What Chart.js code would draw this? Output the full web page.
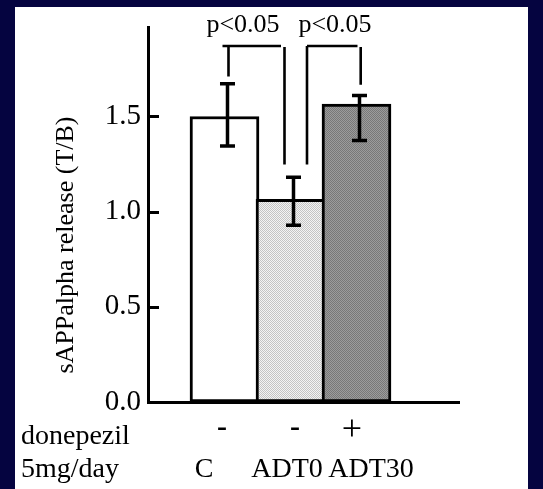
<!DOCTYPE html>
<html><head><meta charset="utf-8">
<script src="https://cdn.jsdelivr.net/npm/chart.js@4/dist/chart.umd.min.js"></script>
<style>
html,body{margin:0;padding:0;background:#050440;overflow:hidden;}
#wrap{position:absolute;left:0;top:0;width:543px;height:489px;}
</style></head><body>
<div id="wrap"><canvas id="c"></canvas></div>
<script>
// ---- data ----
const categories = ['C', 'ADT0', 'ADT30'];
const donepezil = ['-', '-', '+'];
const means = [1.50, 1.065, 1.565];
const errLow = [1.345, 0.928, 1.374];
const errHigh = [1.672, 1.181, 1.610];
const yTicks = [0, 0.5, 1.0, 1.5];
const yMax = 1.97;
const sigLabels = ['p<0.05', 'p<0.05'];
const rowLabels = ['donepezil', '5mg/day'];
const yTitle = 'sAPPalpha release (T/B)';
const bracketTop = 1.87;
const bracketDrops = [[1.71, 1.248], [1.248, 1.666]];

// ---- patterns ----
function makePattern(a, b) {
  const c = document.createElement('canvas');
  c.width = 2; c.height = 2;
  const g = c.getContext('2d');
  g.fillStyle = a; g.fillRect(0, 0, 2, 2);
  g.fillStyle = b; g.fillRect(0, 0, 1, 1); g.fillRect(1, 1, 1, 1);
  return g.createPattern(c, 'repeat');
}
const fills = ['#ffffff', makePattern('#f4f4f4', '#c4c4c4'), makePattern('#9c9c9c', '#787878')];

const SERIF = '"Liberation Serif", "Times New Roman", serif';

const decor = {
  id: 'decor',
  beforeDraw(chart) {
    const ctx = chart.ctx;
    ctx.save();
    ctx.fillStyle = '#050440';
    ctx.fillRect(0, 0, chart.width, chart.height);
    ctx.fillStyle = '#ffffff';
    ctx.fillRect(15, 7, 513, 482);
    ctx.restore();
  },
  afterDraw(chart) {
    const ctx = chart.ctx;
    const ys = chart.scales.y;
    const bars = chart.getDatasetMeta(0).data;
    const left = chart.chartArea.left;
    ctx.save();
    ctx.strokeStyle = '#000';
    ctx.fillStyle = '#000';
    ctx.lineCap = 'butt';
    // inward tick marks
    ctx.lineWidth = 3;
    yTicks.forEach(v => {
      if (v === 0) return;
      const p = Math.round(ys.getPixelForValue(v)) + 0.5;
      ctx.beginPath(); ctx.moveTo(left - 1, p); ctx.lineTo(left + 11, p); ctx.stroke();
    });
    // error bars
    bars.forEach((b, i) => {
      const x = b.x + 3;
      const yt = ys.getPixelForValue(errHigh[i]);
      const yb = ys.getPixelForValue(errLow[i]);
      ctx.lineWidth = 3.5;
      ctx.beginPath(); ctx.moveTo(x, yt); ctx.lineTo(x, yb); ctx.stroke();
      ctx.beginPath(); ctx.moveTo(x - 7.5, yt); ctx.lineTo(x + 7.5, yt);
      ctx.moveTo(x - 7.5, yb); ctx.lineTo(x + 7.5, yb); ctx.stroke();
    });
    // significance brackets
    ctx.lineWidth = 2.6;
    const yTop = ys.getPixelForValue(bracketTop);
    const x0 = bars[0].x, x1 = bars[1].x, x2 = bars[2].x;
    // bracket 1
    ctx.beginPath();
    ctx.moveTo(x0 - 2, yTop); ctx.lineTo(x1 - 9.5, yTop);
    ctx.moveTo(x0 + 4, yTop); ctx.lineTo(x0 + 4, ys.getPixelForValue(bracketDrops[0][0]));
    ctx.moveTo(x1 - 6, yTop + 1); ctx.lineTo(x1 - 6, ys.getPixelForValue(bracketDrops[0][1]));
    ctx.stroke();
    // bracket 2
    ctx.beginPath();
    ctx.moveTo(x1 + 16.5, yTop); ctx.lineTo(x2 + 1, yTop);
    ctx.moveTo(x1 + 16.5, yTop); ctx.lineTo(x1 + 16.5, ys.getPixelForValue(bracketDrops[1][0]));
    ctx.moveTo(x2 + 4.2, yTop + 1); ctx.lineTo(x2 + 4.2, ys.getPixelForValue(bracketDrops[1][1]));
    ctx.stroke();
    // p-value labels
    ctx.font = '26px ' + SERIF;
    ctx.textAlign = 'center';
    ctx.textBaseline = 'alphabetic';
    ctx.fillText(sigLabels[0], x0 + 18.5, 32);
    ctx.fillText(sigLabels[1], x1 + 44.5, 32);
    // y title
    ctx.save();
    ctx.translate(66, 245);
    ctx.rotate(-Math.PI / 2);
    ctx.textBaseline = 'middle';
    ctx.fillText(yTitle, 0, 0);
    ctx.restore();
    // bottom rows
    ctx.font = '28px ' + SERIF;
    ctx.textAlign = 'left';
    ctx.fillText(rowLabels[0], 21, 444);
    ctx.fillText(rowLabels[1], 21, 477);
    ctx.textAlign = 'center';
    const dOff = [-2.5, 4.5, -4.5];
    const cOff = [-20.5, -3.5, 14.5];
    bars.forEach((b, i) => {
      if (donepezil[i] === '+') {
        ctx.font = '36px ' + SERIF;
        ctx.fillText(donepezil[i], b.x + dOff[i], 440);
      } else {
        ctx.font = 'bold 30px ' + SERIF;
        ctx.fillText(donepezil[i], b.x + dOff[i], 436);
      }
      ctx.font = '28px ' + SERIF;
      ctx.fillText(categories[i], b.x + cOff[i], 477);
    });
    ctx.restore();
  }
};

new Chart(document.getElementById('c'), {
  type: 'bar',
  data: {
    datasets: [{
      data: categories.map((c, i) => ({ x: i + 1, y: means[i] })),
      backgroundColor: fills,
      borderColor: '#000',
      borderWidth: 3,
      borderSkipped: false,
      barThickness: 69
    }]
  },
  options: {
    responsive: true,
    maintainAspectRatio: false,
    animation: false,
    devicePixelRatio: 1,
    layout: { padding: { left: 0, right: 84, top: 27, bottom: 0 } },
    plugins: { legend: { display: false }, tooltip: { enabled: false } },
    scales: {
      x: {
        type: 'linear',
        offset: false,
        min: -0.159, max: 4.553,
        ticks: { display: false },
        grid: { display: false, offset: false },
        border: { display: true, color: '#000', width: 3 },
        afterFit(s) { s.height = 87; }
      },
      y: {
        min: 0, max: yMax,
        afterBuildTicks(s) { s.ticks = yTicks.map(v => ({ value: v })); },
        ticks: {
          color: '#000',
          padding: 7,
          font: { family: SERIF, size: 29 },
          callback: v => Number(v).toFixed(1)
        },
        grid: { display: false, drawTicks: false },
        border: { display: true, color: '#000', width: 3 },
        afterFit(s) { s.width = 148; }
      }
    }
  },
  plugins: [decor]
});
</script>
</body></html>
